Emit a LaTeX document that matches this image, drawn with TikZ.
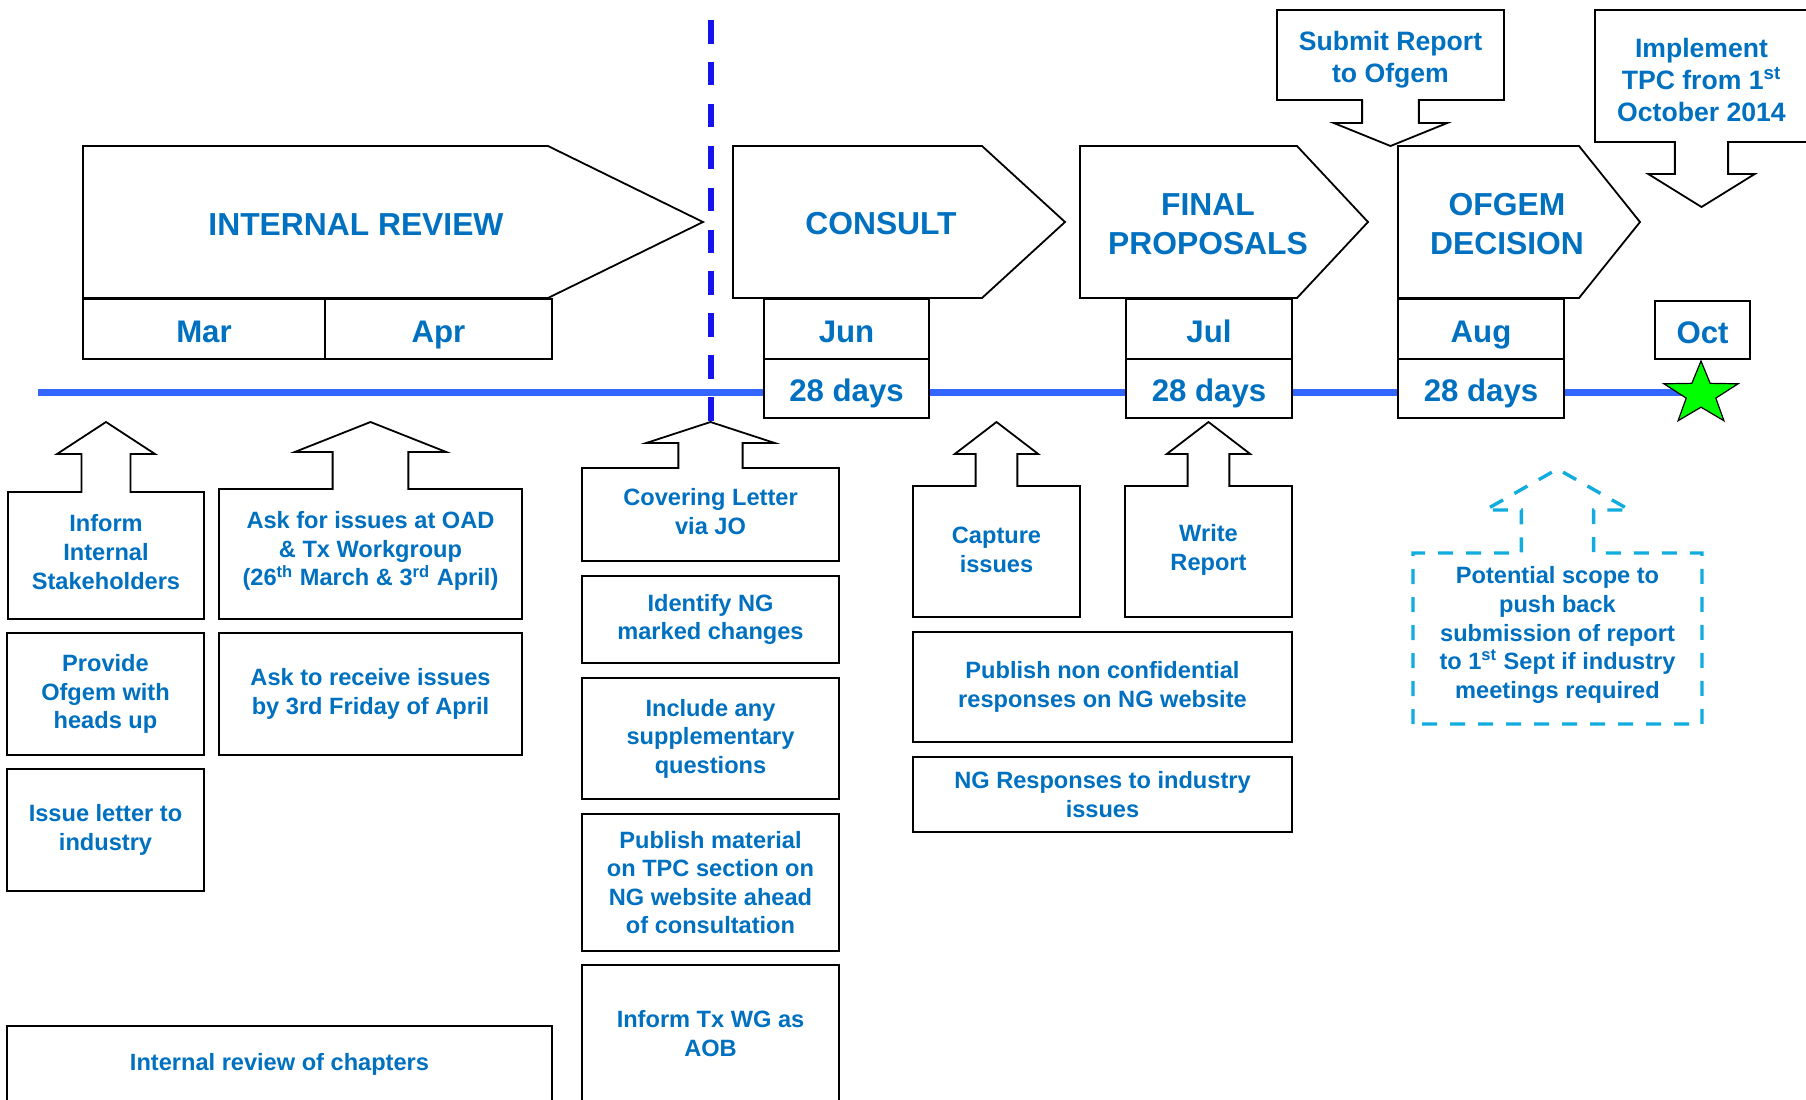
\documentclass[tikz,border=0pt]{standalone}
\usepackage{fontspec}
\setmainfont{Liberation Sans}
\usetikzlibrary{shapes.geometric}

\definecolor{txtblue}{RGB}{0,112,192}
\definecolor{lineblue}{RGB}{51,102,255}
\definecolor{cutblue}{RGB}{20,20,235}
\definecolor{scopecyan}{RGB}{16,172,222}
\definecolor{stargreen}{RGB}{0,255,0}

\tikzset{
  box/.style={draw=black, line width=0.9pt, fill=white},
  txt/.style={text=txtblue, font=\bfseries\fontsize{11.8}{14.3}\selectfont, align=center, inner sep=0pt},
  taskbox/.style={box, txt},
  phasetext/.style={text=txtblue, font=\bfseries\fontsize{15.9}{19.5}\selectfont, align=center, inner sep=0pt},
  monthbox/.style={box, text=txtblue, font=\bfseries\fontsize{15.6}{18}\selectfont, inner sep=0pt,
    text height=13.4pt, text depth=0pt, minimum height=30pt},
  notetext/.style={text=txtblue, font=\bfseries\fontsize{13.3}{16}\selectfont, align=center, inner sep=0pt},
  scopeline/.style={draw=scopecyan, line width=1.7pt, dash pattern=on 7.5pt off 6.5pt}
}

% box with a block arrow on one edge
% #2 left, #3 right, #4 arrow edge, #5 far edge, #6 wing level, #7 tip
\newcommand{\callout}[7][]{%
  \pgfmathsetmacro\cw{#3-#2}%
  \draw[box,#1] (#2,#5) -- (#2,#4) -- ({#2+0.375*\cw},#4) -- ({#2+0.375*\cw},#6)
    -- ({#2+0.25*\cw},#6) -- ({#2+0.5*\cw},#7) -- ({#2+0.75*\cw},#6)
    -- ({#2+0.625*\cw},#6) -- ({#2+0.625*\cw},#4) -- (#3,#4) -- (#3,#5) -- cycle;}

% phase arrow: left, end of body, tip
\newcommand{\phase}[3]{%
  \draw[box] (#1,146) -- (#2,146) -- (#3,222) -- (#2,298) -- (#1,298) -- cycle;}

\begin{document}
\begin{tikzpicture}[x=0.5pt, y=-0.5pt]
\useasboundingbox (0,0) rectangle (1806,1099);

% time line
\draw[lineblue, line width=3.5pt] (38,392) -- (1701,392);
\draw[cutblue, line width=3pt, dash pattern=on 11.75pt off 9.2pt] (711,20) -- (711,422);

% phases
\phase{83}{548}{703}
\phase{733}{982}{1065}
\phase{1080}{1297}{1368}
\phase{1398}{1579}{1640}
\node[phasetext] (intrev) at (356,225) {INTERNAL REVIEW};
\node[phasetext] (consult) at (881,224) {CONSULT};
\node[phasetext] (final) at (1208,224) {FINAL\\PROPOSALS};
\node[phasetext] (ofgem) at (1507,224) {OFGEM\\DECISION};

% months
\node[monthbox, minimum width=121pt] (mar) at (204,329) {Mar};
\node[monthbox, minimum width=113.5pt] (apr) at (438.5,329) {Apr};
\node[monthbox, minimum width=82.5pt] (jun) at (846.5,329) {Jun};
\node[monthbox, minimum width=82.5pt, minimum height=29.5pt] (days1) at (846.5,388.5) {28 days};
\node[monthbox, minimum width=83pt] (jul) at (1209,329) {Jul};
\node[monthbox, minimum width=83pt, minimum height=29.5pt] (days2) at (1209,388.5) {28 days};
\node[monthbox, minimum width=83pt] (aug) at (1481,329) {Aug};
\node[monthbox, minimum width=83pt, minimum height=29.5pt] (days3) at (1481,388.5) {28 days};
\node[monthbox, minimum width=47.5pt, minimum height=29pt] (oct) at (1702.5,330) {Oct};
\node[star, star points=5, star point ratio=2.5, draw=black, line width=0.6pt,
  fill=stargreen, minimum size=33pt, inner sep=0pt, xscale=1.18] (goal) at (1701,394) {};

% milestones above
\callout{1277}{1504}{100}{10}{123}{146}
\node[notetext] (submit) at (1390.5,60) {Submit Report\\to Ofgem};
\callout{1595}{1808}{142}{10}{174}{207}
\node[notetext] (implement) at (1701.5,80) {Implement\\TPC from 1\textsuperscript{st}\\October 2014};

% internal review tasks
\callout{8}{204}{492}{619}{454}{422}
\node[txt] (inform) at (106,552) {Inform\\Internal\\Stakeholders};
\callout{219}{522}{489}{619}{452}{422}
\node[txt] (askoad) at (370.5,551) {Ask for issues at OAD\\\& Tx Workgroup\\(26\textsuperscript{th} March \& 3\textsuperscript{rd} April)};
\node[taskbox, minimum width=98.5pt, minimum height=61pt] (provide) at (105.5,694) {Provide\\Ofgem with\\heads up};
\node[taskbox, minimum width=151.5pt, minimum height=61pt] (askrecv) at (370.5,694) {Ask to receive issues\\by 3rd Friday of April};
\node[taskbox, minimum width=98.5pt, minimum height=61pt] (letter) at (105.5,830) {Issue letter to\\industry};
\node[taskbox, minimum width=272.5pt, minimum height=38pt] (chapters) at (279.5,1064) {Internal review of chapters};

% consultation tasks
\callout{582}{839}{468}{561}{443}{422}
\node[txt] (cover) at (710.5,511.5) {Covering Letter\\via JO};
\node[taskbox, minimum width=128.5pt, minimum height=43.5pt] (identify) at (710.5,619.5) {Identify NG\\marked changes};
\node[taskbox, minimum width=128.5pt, minimum height=60.5pt] (include) at (710.5,738.5) {Include any\\supplementary\\questions};
\node[taskbox, minimum width=128.5pt, minimum height=68.5pt] (publish) at (710.5,882.5) {Publish material\\on TPC section on\\NG website ahead\\of consultation};
\node[taskbox, minimum width=128.5pt, minimum height=68.5pt] (aob) at (710.5,1033.5) {Inform Tx WG as\\AOB};

% final proposal tasks
\callout{913}{1080}{486}{617}{454}{422}
\node[txt] (capture) at (996.5,550) {Capture\\issues};
\callout{1125}{1292}{486}{617}{454}{422}
\node[txt] (write) at (1208.5,550) {Write\\Report};
\node[taskbox, minimum width=189.5pt, minimum height=55pt] (pubresp) at (1102.5,687) {Publish non confidential\\responses on NG website};
\node[taskbox, minimum width=189.5pt, minimum height=37.5pt] (ngresp) at (1102.5,794.5) {NG Responses to industry\\issues};

% possible slip
\callout[scopeline]{1413}{1702}{553}{724}{510}{469}
\node[txt] (scope) at (1557.5,635) {Potential scope to\\push back\\submission of report\\to 1\textsuperscript{st} Sept if industry\\meetings required};
\end{tikzpicture}
\end{document}
